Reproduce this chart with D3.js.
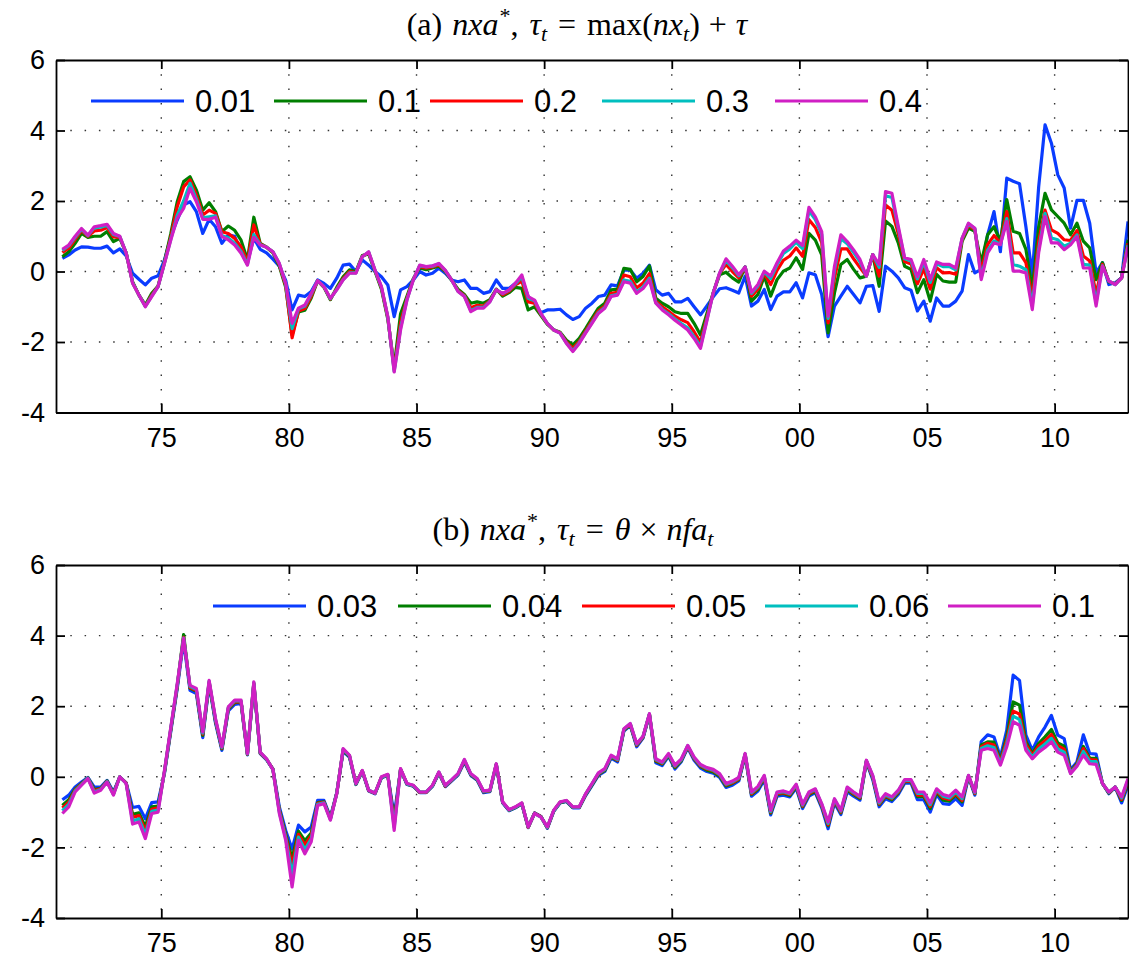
<!DOCTYPE html>
<html>
<head>
<meta charset="utf-8">
<script src="https://cdn.jsdelivr.net/npm/d3@7"></script>
<style>
  body { margin: 0; background: #ffffff; }
</style>
</head>
<body>
<div id="chart"></div>
<script>
// quarterly observations, 1971Q1 .. 2012Q4
const firstQuarter = 1971.125;
const quarterStep = 0.25;
const xTicks = [1975, 1980, 1985, 1990, 1995, 2000, 2005, 2010];
const yTicks = [-4, -2, 0, 2, 4, 6];

const colors = ["#0a3cff", "#007f00", "#ff0000", "#00bfbf", "#d01fc4"];

// panel (a): tau = 0.01, 0.1, 0.2, 0.3, 0.4
const labelsA = ["0.01", "0.1", "0.2", "0.3", "0.4"];
const a001 = [0.37,0.47,0.61,0.70,0.69,0.66,0.66,0.72,0.53,0.64,
  0.44,-0.05,-0.22,-0.38,-0.19,-0.12,0.33,0.99,1.46,1.89,
  1.98,1.70,1.08,1.48,1.27,0.80,1.04,1.00,0.56,0.28,
  0.94,0.63,0.53,0.35,0.15,-0.25,-1.09,-0.67,-0.71,-0.57,
  -0.24,-0.34,-0.48,-0.19,0.18,0.21,0.00,0.33,0.18,0.00,
  -0.15,-0.38,-1.28,-0.52,-0.43,-0.24,0.00,-0.10,-0.05,0.09,
  -0.05,-0.24,-0.29,-0.24,-0.48,-0.48,-0.62,-0.57,-0.24,-0.48,
  -0.48,-0.33,-0.20,-0.71,-0.90,-1.17,-1.09,-1.09,-1.07,-1.23,
  -1.36,-1.28,-1.04,-0.90,-0.71,-0.67,-0.38,-0.41,0.04,0.04,
  -0.19,-0.05,0.18,-0.52,-0.67,-0.62,-0.86,-0.86,-0.76,-1.00,
  -1.23,-0.98,-0.72,-0.49,-0.46,-0.53,-0.61,-0.13,-0.98,-0.84,
  -0.51,-1.08,-0.70,-0.58,-0.58,-0.32,-0.75,-0.04,-0.09,-0.65,
  -1.85,-0.98,-0.70,-0.42,-0.65,-0.89,-0.42,-0.40,-1.13,0.15,
  0.01,-0.18,-0.46,-0.53,-1.12,-0.84,-1.41,-0.75,-0.98,-0.98,
  -0.84,-0.56,0.48,-0.04,0.06,1.04,1.70,0.56,2.65,2.56,
  2.49,1.27,-0.10,2.40,4.16,3.64,2.74,2.37,1.23,2.02,
  2.02,1.37,-0.04,0.25,-0.37,-0.32,-0.18,1.42];
const a01 = [0.42,0.56,0.80,1.08,0.97,1.00,1.00,1.13,0.85,0.94,
  0.53,-0.29,-0.67,-0.95,-0.62,-0.41,0.28,1.08,1.98,2.55,
  2.69,2.31,1.74,1.95,1.70,1.13,1.29,1.17,0.89,0.33,
  1.54,0.80,0.69,0.53,0.15,-0.45,-1.80,-1.15,-1.10,-0.75,
  -0.26,-0.45,-0.80,-0.45,-0.15,0.05,0.00,0.45,0.50,0.00,
  -0.50,-1.35,-2.70,-1.20,-0.70,-0.20,0.10,0.05,0.10,0.15,
  0.00,-0.25,-0.50,-0.65,-0.90,-0.86,-0.90,-0.80,-0.50,-0.70,
  -0.60,-0.45,-0.48,-1.09,-1.00,-1.25,-1.50,-1.65,-1.72,-1.95,
  -2.08,-1.90,-1.62,-1.32,-1.04,-0.90,-0.52,-0.50,0.09,0.06,
  -0.29,-0.14,0.16,-0.76,-0.90,-1.00,-1.14,-1.19,-1.19,-1.47,
  -1.80,-1.20,-0.60,-0.09,-0.02,-0.18,-0.30,0.13,-0.84,-0.65,
  -0.13,-0.70,-0.23,0.01,0.10,0.39,0.06,1.08,0.89,0.47,
  -1.74,-0.61,0.20,0.34,0.06,-0.18,-0.13,0.48,-0.42,1.43,
  1.28,0.81,0.15,0.06,-0.60,-0.23,-0.84,-0.08,-0.27,-0.30,
  -0.30,0.86,1.23,1.14,0.25,1.04,1.27,0.86,2.04,1.14,
  1.08,0.63,-0.50,1.27,2.22,1.75,1.56,1.37,1.04,1.37,
  0.86,0.67,-0.23,0.25,-0.30,-0.35,-0.18,0.90];
const a02 = [0.54,0.66,0.91,1.16,1.00,1.15,1.17,1.25,0.98,0.97,
  0.52,-0.31,-0.67,-0.98,-0.67,-0.42,0.25,0.98,1.84,2.40,
  2.60,2.17,1.60,1.74,1.65,1.13,1.08,0.94,0.70,0.28,
  1.32,0.78,0.69,0.55,0.19,-0.40,-1.88,-1.12,-1.05,-0.70,
  -0.26,-0.44,-0.78,-0.49,-0.20,0.00,-0.03,0.43,0.53,0.02,
  -0.46,-1.31,-2.78,-1.45,-0.76,-0.22,0.14,0.10,0.13,0.19,
  0.02,-0.24,-0.54,-0.68,-1.03,-0.96,-0.98,-0.83,-0.51,-0.66,
  -0.56,-0.38,-0.27,-0.86,-0.90,-1.22,-1.48,-1.66,-1.74,-2.00,
  -2.18,-1.98,-1.69,-1.40,-1.12,-0.98,-0.62,-0.59,-0.10,-0.15,
  -0.47,-0.33,-0.06,-0.84,-1.00,-1.13,-1.27,-1.37,-1.45,-1.71,
  -2.01,-1.31,-0.61,-0.06,0.20,0.00,-0.18,0.13,-0.70,-0.50,
  -0.05,-0.37,0.03,0.32,0.44,0.67,0.43,1.47,1.25,0.83,
  -1.46,-0.19,0.64,0.64,0.36,0.11,-0.13,0.48,-0.13,1.89,
  1.74,1.07,0.28,0.21,-0.35,0.08,-0.50,0.11,-0.04,-0.03,
  -0.08,0.91,1.31,1.19,0.01,0.76,1.02,0.80,1.70,0.53,
  0.53,0.25,-0.76,0.86,1.74,1.18,1.08,0.90,0.88,1.16,
  0.44,0.30,-0.64,0.20,-0.28,-0.36,-0.18,0.80];
const a03 = [0.60,0.73,0.97,1.20,1.02,1.24,1.26,1.31,1.05,0.99,
  0.52,-0.32,-0.67,-0.99,-0.70,-0.43,0.24,0.92,1.60,2.00,
  2.50,2.05,1.52,1.55,1.58,1.02,0.95,0.80,0.57,0.20,
  1.05,0.76,0.69,0.56,0.22,-0.35,-1.62,-1.06,-0.98,-0.64,
  -0.26,-0.43,-0.77,-0.51,-0.23,-0.04,-0.04,0.42,0.55,0.03,
  -0.44,-1.29,-2.83,-1.60,-0.80,-0.23,0.17,0.13,0.15,0.22,
  0.03,-0.24,-0.56,-0.70,-1.11,-1.02,-1.02,-0.85,-0.52,-0.63,
  -0.53,-0.35,-0.15,-0.76,-0.83,-1.20,-1.47,-1.66,-1.75,-2.03,
  -2.25,-2.02,-1.73,-1.45,-1.17,-1.02,-0.69,-0.65,-0.24,-0.28,
  -0.58,-0.44,-0.19,-0.88,-1.07,-1.20,-1.35,-1.48,-1.60,-1.85,
  -2.13,-1.37,-0.61,-0.05,0.31,0.11,-0.12,0.13,-0.62,-0.41,
  -0.01,-0.20,0.19,0.51,0.64,0.83,0.65,1.72,1.47,1.05,
  -1.33,0.05,0.93,0.79,0.54,0.27,-0.13,0.48,0.12,2.15,
  2.10,1.22,0.36,0.30,-0.21,0.27,-0.31,0.22,0.14,0.14,
  0.05,0.94,1.35,1.22,-0.17,0.60,0.87,0.77,1.50,0.20,
  0.15,0.05,-0.95,0.63,1.65,0.95,0.90,0.72,0.80,1.04,
  0.20,0.18,-0.88,0.16,-0.27,-0.37,-0.18,0.74];
const a04 = [0.63,0.75,1.00,1.22,1.03,1.27,1.30,1.34,1.08,1.00,
  0.52,-0.33,-0.67,-1.00,-0.71,-0.43,0.23,0.90,1.51,1.79,
  2.36,1.98,1.48,1.48,1.54,0.99,0.90,0.75,0.52,0.18,
  0.97,0.75,0.69,0.56,0.23,-0.33,-1.47,-1.04,-0.95,-0.62,
  -0.26,-0.43,-0.76,-0.52,-0.24,-0.05,-0.05,0.42,0.56,0.04,
  -0.43,-1.28,-2.85,-1.66,-0.81,-0.24,0.18,0.14,0.16,0.23,
  0.04,-0.24,-0.57,-0.71,-1.14,-1.04,-1.04,-0.86,-0.52,-0.62,
  -0.52,-0.33,-0.10,-0.71,-0.81,-1.19,-1.47,-1.66,-1.75,-2.04,
  -2.27,-2.04,-1.75,-1.47,-1.19,-1.04,-0.71,-0.67,-0.29,-0.33,
  -0.62,-0.48,-0.24,-0.90,-1.09,-1.23,-1.38,-1.52,-1.66,-1.90,
  -2.18,-1.40,-0.61,-0.04,0.36,0.15,-0.09,0.13,-0.59,-0.37,
  0.01,-0.13,0.25,0.58,0.72,0.89,0.74,1.82,1.55,1.13,
  -1.27,0.15,1.04,0.85,0.61,0.34,-0.13,0.48,0.20,2.27,
  2.22,1.28,0.39,0.34,-0.15,0.34,-0.23,0.27,0.20,0.20,
  0.10,0.95,1.37,1.23,-0.23,0.53,0.81,0.76,1.42,0.01,
  0.01,-0.04,-1.08,0.53,1.56,0.81,0.81,0.62,0.76,0.99,
  0.10,0.10,-0.98,0.15,-0.27,-0.37,-0.18,0.71];

// panel (b): theta = 0.03, 0.04, 0.05, 0.06, 0.1
const labelsB = ["0.03", "0.04", "0.05", "0.06", "0.1"];
const b003 = [-0.65,-0.52,-0.29,-0.15,-0.02,-0.29,-0.29,-0.10,-0.43,0.00,
  -0.17,-0.87,-0.84,-1.19,-0.73,-0.71,0.10,1.30,2.50,3.85,
  2.45,2.36,1.11,2.62,1.52,0.75,1.87,2.05,2.08,0.62,
  2.60,0.66,0.48,0.22,-0.85,-1.52,-2.05,-1.37,-1.56,-1.42,
  -0.67,-0.67,-1.14,-0.45,0.72,0.55,-0.22,0.15,-0.40,-0.48,
  -0.03,0.04,-1.10,0.20,-0.22,-0.27,-0.45,-0.45,-0.27,0.10,
  -0.28,-0.12,0.05,0.42,0.04,-0.10,-0.45,-0.42,0.33,-0.74,
  -0.96,-0.88,-0.77,-1.44,-1.02,-1.12,-1.46,-0.98,-0.74,-0.70,
  -0.88,-0.88,-0.53,-0.25,0.04,0.15,0.53,0.42,1.30,1.45,
  0.85,1.10,1.75,0.40,0.32,0.58,0.22,0.43,0.82,0.47,
  0.25,0.15,0.10,-0.02,-0.30,-0.24,-0.12,0.60,-0.55,-0.40,
  -0.08,-1.08,-0.55,-0.52,-0.57,-0.32,-0.90,-0.55,-0.45,-0.88,
  -1.47,-0.74,-1.07,-0.42,-0.55,-0.66,0.42,-0.08,-0.85,-0.62,
  -0.70,-0.50,-0.18,-0.18,-0.65,-0.65,-1.00,-0.50,-0.76,-0.78,
  -0.62,-0.81,0.00,-0.52,1.00,1.19,1.13,0.56,1.32,2.88,
  2.73,1.18,0.75,1.13,1.41,1.74,1.18,1.08,0.20,0.42,
  1.19,0.66,0.64,-0.19,-0.48,-0.29,-0.74,-0.24];
const b004 = [-0.81,-0.65,-0.35,-0.19,-0.03,-0.36,-0.33,-0.12,-0.47,0.00,
  -0.18,-1.06,-1.02,-1.41,-0.85,-0.83,0.13,1.34,2.56,4.03,
  2.51,2.42,1.17,2.66,1.57,0.79,1.91,2.10,2.12,0.64,
  2.64,0.68,0.49,0.21,-0.93,-1.63,-2.32,-1.54,-1.81,-1.59,
  -0.73,-0.71,-1.18,-0.46,0.75,0.57,-0.21,0.16,-0.39,-0.47,
  -0.02,0.05,-1.27,0.21,-0.21,-0.26,-0.44,-0.44,-0.26,0.12,
  -0.26,-0.10,0.07,0.45,0.06,-0.08,-0.43,-0.40,0.35,-0.73,
  -0.95,-0.87,-0.76,-1.43,-1.03,-1.13,-1.44,-0.97,-0.73,-0.69,
  -0.87,-0.87,-0.51,-0.23,0.07,0.18,0.56,0.46,1.32,1.47,
  0.89,1.12,1.77,0.44,0.36,0.61,0.26,0.46,0.85,0.51,
  0.29,0.19,0.14,0.02,-0.26,-0.19,-0.08,0.62,-0.50,-0.35,
  -0.03,-1.03,-0.50,-0.47,-0.53,-0.28,-0.85,-0.50,-0.41,-0.83,
  -1.39,-0.69,-1.02,-0.37,-0.50,-0.62,0.44,-0.03,-0.79,-0.56,
  -0.65,-0.45,-0.14,-0.14,-0.56,-0.56,-0.90,-0.44,-0.66,-0.69,
  -0.52,-0.71,0.02,-0.48,0.90,0.99,0.98,0.47,1.13,2.12,
  2.03,1.00,0.65,0.95,1.13,1.34,0.96,0.87,0.15,0.37,
  0.86,0.53,0.52,-0.19,-0.46,-0.29,-0.67,-0.16];
const b005 = [-0.88,-0.72,-0.37,-0.20,-0.04,-0.39,-0.34,-0.13,-0.48,0.00,
  -0.18,-1.15,-1.10,-1.53,-0.92,-0.88,0.15,1.37,2.58,3.95,
  2.53,2.44,1.21,2.69,1.60,0.81,1.94,2.12,2.13,0.64,
  2.65,0.68,0.50,0.21,-0.96,-1.69,-2.50,-1.63,-1.93,-1.67,
  -0.75,-0.72,-1.19,-0.47,0.77,0.59,-0.20,0.17,-0.39,-0.47,
  -0.01,0.06,-1.35,0.22,-0.20,-0.25,-0.44,-0.44,-0.25,0.12,
  -0.26,-0.10,0.07,0.46,0.07,-0.07,-0.42,-0.40,0.35,-0.72,
  -0.94,-0.86,-0.75,-1.43,-1.03,-1.13,-1.44,-0.96,-0.72,-0.68,
  -0.86,-0.86,-0.50,-0.21,0.08,0.20,0.58,0.47,1.34,1.49,
  0.90,1.13,1.77,0.47,0.38,0.63,0.29,0.48,0.86,0.52,
  0.31,0.22,0.17,0.05,-0.23,-0.17,-0.06,0.64,-0.48,-0.32,
  -0.01,-1.00,-0.48,-0.45,-0.50,-0.25,-0.83,-0.48,-0.38,-0.81,
  -1.36,-0.67,-1.00,-0.34,-0.48,-0.59,0.45,-0.01,-0.77,-0.54,
  -0.62,-0.43,-0.12,-0.12,-0.52,-0.52,-0.84,-0.40,-0.60,-0.64,
  -0.48,-0.67,0.02,-0.47,0.85,0.95,0.90,0.42,1.04,1.86,
  1.78,0.92,0.61,0.87,1.02,1.20,0.88,0.78,0.13,0.35,
  0.80,0.49,0.47,-0.19,-0.45,-0.29,-0.64,-0.13];
const b006 = [-0.96,-0.78,-0.40,-0.22,-0.04,-0.43,-0.36,-0.14,-0.50,0.00,
  -0.19,-1.25,-1.19,-1.64,-0.98,-0.94,0.16,1.39,2.61,3.93,
  2.56,2.47,1.24,2.71,1.62,0.83,1.96,2.15,2.15,0.65,
  2.67,0.69,0.50,0.20,-1.00,-1.74,-2.77,-1.71,-2.06,-1.76,
  -0.78,-0.74,-1.21,-0.47,0.78,0.60,-0.20,0.17,-0.38,-0.46,
  -0.01,0.06,-1.44,0.22,-0.20,-0.25,-0.43,-0.43,-0.25,0.13,
  -0.25,-0.09,0.08,0.48,0.08,-0.06,-0.41,-0.39,0.36,-0.72,
  -0.94,-0.86,-0.75,-1.42,-1.04,-1.14,-1.43,-0.96,-0.72,-0.68,
  -0.86,-0.86,-0.49,-0.20,0.10,0.21,0.59,0.49,1.35,1.50,
  0.92,1.14,1.78,0.49,0.40,0.64,0.31,0.49,0.88,0.54,
  0.33,0.24,0.19,0.07,-0.21,-0.14,-0.04,0.65,-0.45,-0.30,
  0.02,-0.98,-0.45,-0.42,-0.48,-0.23,-0.80,-0.45,-0.36,-0.78,
  -1.32,-0.64,-0.97,-0.32,-0.45,-0.57,0.46,0.02,-0.74,-0.51,
  -0.60,-0.40,-0.10,-0.10,-0.47,-0.47,-0.79,-0.37,-0.55,-0.60,
  -0.43,-0.62,0.03,-0.45,0.80,0.88,0.83,0.38,0.94,1.72,
  1.62,0.83,0.56,0.79,0.93,1.09,0.79,0.70,0.11,0.32,
  0.72,0.44,0.43,-0.19,-0.44,-0.29,-0.60,-0.09];
const b01 = [-1.04,-0.85,-0.43,-0.24,-0.05,-0.46,-0.38,-0.15,-0.52,0.00,
  -0.19,-1.34,-1.28,-1.75,-1.04,-1.00,0.18,1.41,2.64,3.92,
  2.59,2.50,1.27,2.73,1.65,0.85,1.98,2.17,2.17,0.66,
  2.69,0.70,0.51,0.20,-1.04,-1.80,-3.12,-1.80,-2.18,-1.84,
  -0.81,-0.76,-1.23,-0.48,0.80,0.61,-0.19,0.18,-0.38,-0.46,
  0.00,0.07,-1.52,0.23,-0.19,-0.24,-0.43,-0.43,-0.24,0.14,
  -0.24,-0.08,0.09,0.49,0.09,-0.05,-0.40,-0.38,0.37,-0.71,
  -0.93,-0.85,-0.74,-1.42,-1.04,-1.14,-1.42,-0.95,-0.71,-0.67,
  -0.85,-0.85,-0.48,-0.19,0.11,0.23,0.61,0.51,1.36,1.51,
  0.94,1.15,1.79,0.51,0.42,0.66,0.33,0.51,0.89,0.56,
  0.35,0.26,0.21,0.09,-0.19,-0.12,-0.02,0.66,-0.43,-0.27,
  0.04,-0.95,-0.43,-0.40,-0.46,-0.21,-0.78,-0.43,-0.34,-0.76,
  -1.28,-0.62,-0.95,-0.29,-0.43,-0.55,0.47,0.04,-0.71,-0.48,
  -0.57,-0.38,-0.08,-0.08,-0.43,-0.43,-0.74,-0.34,-0.50,-0.55,
  -0.38,-0.57,0.04,-0.43,0.75,0.80,0.75,0.33,0.85,1.56,
  1.46,0.75,0.51,0.70,0.83,0.99,0.70,0.61,0.09,0.30,
  0.61,0.37,0.35,-0.19,-0.43,-0.29,-0.57,-0.05];

const width = 1129, height = 963;
const left = 56, right = 1128;

const svg = d3.select("#chart")
  .append("svg")
  .attr("width", width)
  .attr("height", height);

const x = d3.scaleLinear()
  .domain([1970.875, 2012.875])
  .range([left, right]);

// title pieces: [text, kind, extra space before]
const panels = [
  {
    top: 60, bottom: 412.5, titleY: 35, titleX: 577,
    legendY: 101, legendX: [91, 274, 430, 602, 775],
    labels: labelsA, series: [a001, a01, a02, a03, a04],
    title: [["(a)", "n", 0], ["nxa", "i", 10], ["*", "sup", 1], [",", "n", 0], ["τ", "i", 11], ["t", "sub", 0],
            ["=", "n", 11], ["max(", "n", 11], ["nx", "i", 0], ["t", "sub", 0], [")", "n", 0],
            ["+", "n", 9], ["τ", "i", 9]]
  },
  {
    top: 565, bottom: 918, titleY: 540, titleX: 573,
    legendY: 606, legendX: [213, 398, 582, 765, 948],
    labels: labelsB, series: [b003, b004, b005, b006, b01],
    title: [["(b)", "n", 0], ["nxa", "i", 10], ["*", "sup", 1], [",", "n", 0], ["τ", "i", 11], ["t", "sub", 0],
            ["=", "n", 11], ["θ", "i", 11], ["×", "n", 9], ["nfa", "i", 9], ["t", "sub", 0]]
  }
];

panels.forEach(p => {
  const y = d3.scaleLinear().domain([-4, 6]).range([p.bottom, p.top]);
  const g = svg.append("g");

  // dotted grid
  g.selectAll(".vgrid")
    .data(xTicks)
    .join("line")
    .attr("x1", d => x(d)).attr("x2", d => x(d))
    .attr("y1", p.top).attr("y2", p.bottom)
    .attr("stroke", "#333")
    .attr("stroke-width", 1.4)
    .attr("stroke-dasharray", "1.5,12.8");

  g.selectAll(".hgrid")
    .data(yTicks.slice(1, -1))
    .join("line")
    .attr("x1", left).attr("x2", right)
    .attr("y1", d => y(d)).attr("y2", d => y(d))
    .attr("stroke", "#333")
    .attr("stroke-width", 1.4)
    .attr("stroke-dasharray", "1.5,12.8");

  // series
  const line = d3.line()
    .x((d, i) => x(firstQuarter + i * quarterStep))
    .y(d => y(d));

  p.series.forEach((s, k) => {
    g.append("path")
      .datum(s)
      .attr("fill", "none")
      .attr("stroke", colors[k])
      .attr("stroke-width", 3.2)
      .attr("stroke-linejoin", "round")
      .attr("d", line);
  });

  // axes, ticks pointing inward on all four sides
  const axisStyle = sel => {
    sel.select(".domain").attr("stroke", "#000").attr("stroke-width", 1.8);
    sel.selectAll(".tick line").attr("stroke", "#000").attr("stroke-width", 1.8);
    sel.selectAll("text")
      .style("font-family", "'Liberation Sans', Arial, sans-serif")
      .style("font-size", "27px")
      .attr("fill", "#000");
  };

  g.append("g")
    .attr("transform", `translate(${left},0)`)
    .call(d3.axisLeft(y).tickValues(yTicks).tickSize(-9).tickSizeOuter(0)
      .tickPadding(11).tickFormat(d => String(d)))
    .call(axisStyle);

  g.append("g")
    .attr("transform", `translate(${right},0)`)
    .call(d3.axisRight(y).tickValues(yTicks).tickSize(-9).tickSizeOuter(0).tickFormat(""))
    .call(axisStyle);

  g.append("g")
    .attr("transform", `translate(0,${p.bottom})`)
    .call(d3.axisBottom(x).tickValues(xTicks).tickSize(-9).tickSizeOuter(0)
      .tickPadding(15).tickFormat(d => String(d % 100).padStart(2, "0")))
    .call(axisStyle);

  g.append("g")
    .attr("transform", `translate(0,${p.top})`)
    .call(d3.axisTop(x).tickValues(xTicks).tickSize(-9).tickSizeOuter(0).tickFormat(""))
    .call(axisStyle);

  // title with math-style parts
  const title = svg.append("text")
    .attr("x", p.titleX)
    .attr("y", p.titleY)
    .attr("text-anchor", "middle")
    .style("font-family", "'Liberation Serif', 'DejaVu Serif', serif")
    .style("font-size", "32px")
    .attr("fill", "#000");

  let shift = 0;
  p.title.forEach(([txt, kind, gap]) => {
    const t = title.append("tspan").text(txt).attr("dx", gap);
    let target = 0;
    if (kind === "i") t.style("font-style", "italic");
    if (kind === "sup") { target = -12; t.style("font-size", "22px"); }
    if (kind === "sub") { target = 6; t.style("font-size", "22px").style("font-style", "italic"); }
    t.attr("dy", target - shift);
    shift = target;
  });

  // legend
  const lg = svg.append("g");
  p.labels.forEach((lab, k) => {
    const cx = p.legendX[k];
    lg.append("line")
      .attr("x1", cx).attr("x2", cx + 93)
      .attr("y1", p.legendY).attr("y2", p.legendY)
      .attr("stroke", colors[k])
      .attr("stroke-width", 3.2);
    lg.append("text")
      .attr("x", cx + 104)
      .attr("y", p.legendY)
      .attr("dy", "0.36em")
      .style("font-family", "'Liberation Sans', Arial, sans-serif")
      .style("font-size", "31px")
      .attr("fill", "#000")
      .text(lab);
  });
});
</script>
</body>
</html>
